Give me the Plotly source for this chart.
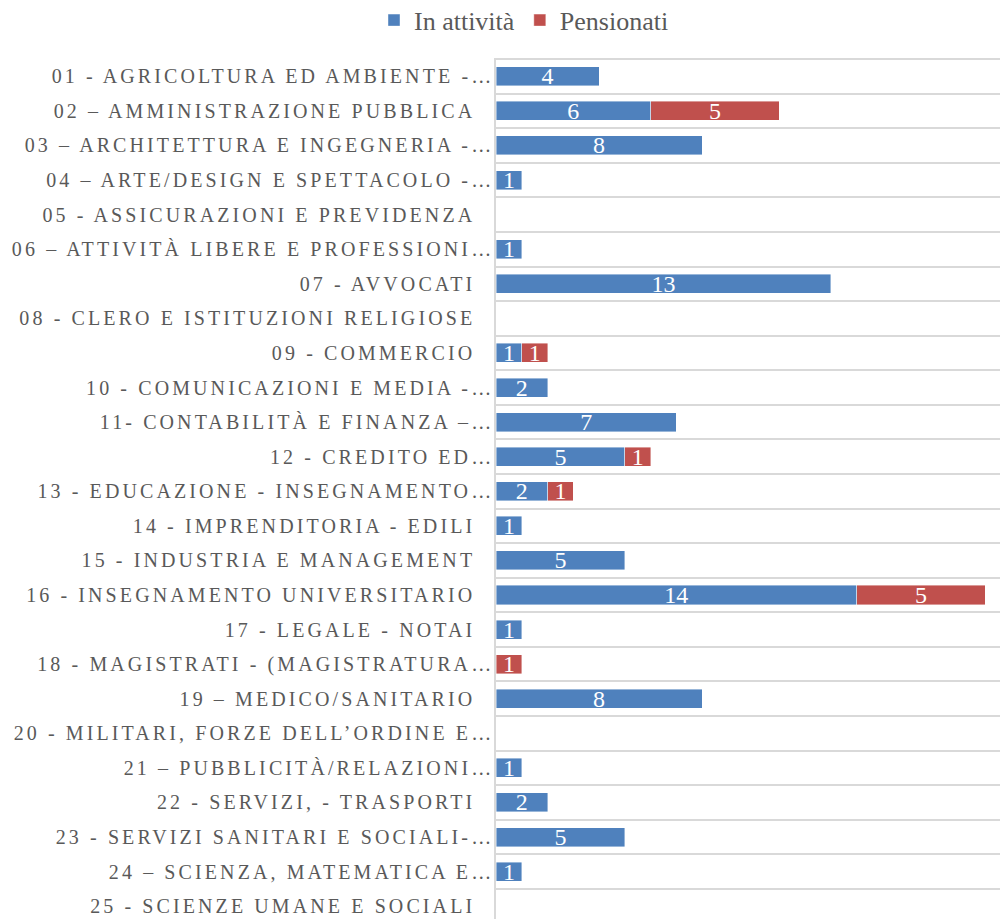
import plotly.graph_objects as go

categories = [
    "01 - AGRICOLTURA ED AMBIENTE -…",
    "02 – AMMINISTRAZIONE PUBBLICA",
    "03 – ARCHITETTURA E INGEGNERIA -…",
    "04 – ARTE/DESIGN E SPETTACOLO -…",
    "05 - ASSICURAZIONI E PREVIDENZA",
    "06 – ATTIVITÀ LIBERE E PROFESSIONI…",
    "07 - AVVOCATI",
    "08 - CLERO E ISTITUZIONI RELIGIOSE",
    "09 - COMMERCIO",
    "10 - COMUNICAZIONI E MEDIA -…",
    "11- CONTABILITÀ E FINANZA –…",
    "12 - CREDITO ED…",
    "13 - EDUCAZIONE - INSEGNAMENTO…",
    "14 - IMPRENDITORIA - EDILI",
    "15 - INDUSTRIA E MANAGEMENT",
    "16 - INSEGNAMENTO UNIVERSITARIO",
    "17 - LEGALE - NOTAI",
    "18 - MAGISTRATI - (MAGISTRATURA…",
    "19 – MEDICO/SANITARIO",
    "20 - MILITARI, FORZE DELL’ORDINE E…",
    "21 – PUBBLICITÀ/RELAZIONI…",
    "22 - SERVIZI, - TRASPORTI",
    "23 - SERVIZI SANITARI E SOCIALI-…",
    "24 – SCIENZA, MATEMATICA E…",
    "25 - SCIENZE UMANE E SOCIALI",
]

in_attivita = [4, 6, 8, 1, 0, 1, 13, 0, 1, 2, 7, 5, 2, 1, 5, 14, 1, 0, 8, 0, 1, 2, 5, 1, 0]
pensionati = [0, 5, 0, 0, 0, 0, 0, 0, 1, 0, 0, 1, 1, 0, 0, 5, 0, 1, 0, 0, 0, 0, 0, 0, 0]

series_names = ["In attività", "Pensionati"]
series_colors = ["#4F81BD", "#C0504D"]

LS = 3.1          # letter spacing of category labels (px)
EXTRA_PLAIN = 15  # trailing room after non-truncated labels (px)
EXTRA_ELL = -4


def styled(label):
    extra = EXTRA_ELL if label.endswith("…") else EXTRA_PLAIN
    return (f'<span style="letter-spacing:{LS}px">{label[:-1]}</span>'
            f'<span style="letter-spacing:{LS + extra}px">{label[-1]}</span>')


ticktext = [styled(c) for c in categories]

fig = go.Figure()
for name, vals, col in zip(series_names, [in_attivita, pensionati], series_colors):
    fig.add_trace(go.Bar(
        name=name,
        y=categories,
        x=[v if v else None for v in vals],
        orientation="h",
        marker=dict(color=col, line=dict(color="rgba(255,255,255,0.7)", width=0.6)),
        text=[str(v) if v else "" for v in vals],
        textposition="inside",
        insidetextanchor="middle",
        textangle=0,
        constraintext="none",
        textfont=dict(family="Liberation Serif", size=24, color="white"),
        hoverinfo="skip",
    ))

fig.update_layout(
    width=1000,
    height=919,
    barmode="stack",
    bargap=0.45,
    paper_bgcolor="white",
    plot_bgcolor="white",
    margin=dict(l=496, r=0, t=58, b=0, pad=0),
    showlegend=True,
    legend=dict(
        orientation="h",
        xref="container", yref="container",
        x=0.374, y=0.978, xanchor="left", yanchor="middle",
        font=dict(family="Liberation Serif", size=26, color="#595959"),
        itemwidth=30,
        traceorder="normal",
        bgcolor="rgba(0,0,0,0)",
    ),
    xaxis=dict(
        range=[0, 19.57],
        showticklabels=False,
        showgrid=False,
        zeroline=False,
        showline=False,
        fixedrange=True,
    ),
    yaxis=dict(
        type="category",
        categoryorder="array",
        categoryarray=categories,
        range=[24.37, -0.53],
        tickmode="array",
        tickvals=categories,
        ticktext=ticktext,
        tickson="boundaries",
        ticks="",
        showgrid=True,
        gridcolor="#D9D9D9",
        gridwidth=1.5,
        showline=True,
        linecolor="#D9D9D9",
        linewidth=1.5,
        tickfont=dict(family="Liberation Serif", size=20, color="#595959"),
        fixedrange=True,
    ),
)

fig.write_html(
    "out.html",
    config={"displayModeBar": False},
    post_script="document.body.style.margin='0';document.body.style.overflow='hidden';",
)
